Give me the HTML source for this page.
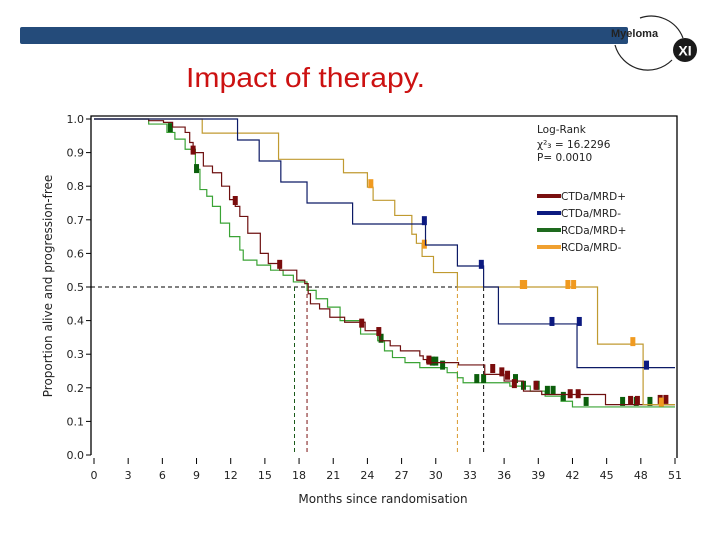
<!DOCTYPE html>
<html><head><meta charset="utf-8"><style>
body{margin:0;width:720px;height:540px;background:#fff;overflow:hidden;font-family:"DejaVu Sans","Liberation Sans",sans-serif}
</style></head><body>
<svg width="720" height="540" viewBox="0 0 720 540" xmlns="http://www.w3.org/2000/svg">
<rect x="20" y="27" width="608" height="17" rx="2" fill="#244b7a"/>
<g>
<path d="M640,18 A34,34 0 0 1 683,38" fill="none" stroke="#222" stroke-width="1.2"/>
<path d="M615,45 A34,34 0 0 0 672,60" fill="none" stroke="#222" stroke-width="1.2"/>
<text x="611" y="37" font-family="Liberation Sans,sans-serif" font-weight="bold" font-size="11" fill="#222">Myeloma</text>
<circle cx="685" cy="50" r="12" fill="#1a1a1a"/>
<text x="685" y="55.5" text-anchor="middle" font-family="Liberation Sans,sans-serif" font-weight="bold" font-size="14" fill="#fff">XI</text>
</g>
<text x="186" y="87" font-family="Liberation Sans,sans-serif" font-size="28" textLength="239" lengthAdjust="spacingAndGlyphs" fill="#cc1111">Impact of therapy.</text>
<g id="chart"></g>
</svg>
<script>
const xTicks=[0,3,6,9,12,15,18,21,24,27,30,33,36,39,42,45,48,51];
const yTicks=[0,0.1,0.2,0.3,0.4,0.5,0.6,0.7,0.8,0.9,1.0];
const maroonTimes=[0,4.8,6.1,6.9,8.0,8.4,8.7,9.6,10.4,11.2,11.9,12.4,12.8,13.5,14.6,15.3,16.3,17.8,18.5,18.8,19.0,19.8,20.7,22,23.8,25.1,26,26.9,28.6,28.9,29.2,32,34.3,36,37.7,39.3,44.9];
const maroonValues=[1,0.995,0.99,0.976,0.96,0.93,0.90,0.86,0.84,0.80,0.76,0.74,0.71,0.66,0.60,0.57,0.55,0.52,0.51,0.48,0.45,0.435,0.41,0.395,0.37,0.34,0.325,0.31,0.295,0.284,0.275,0.268,0.24,0.22,0.19,0.18,0.15];
const greenTimes=[0,4.8,6.4,7.1,8.0,8.9,9.3,9.9,10.4,11.1,11.9,12.8,13.1,14.3,15.5,16.6,17.5,18.7,19.5,20.5,21.6,23.4,24.9,25.5,26.2,27.3,28.6,31,31.9,32.4,36.5,38.3,39.6,41,42];
const greenValues=[1,0.985,0.96,0.94,0.91,0.85,0.79,0.77,0.74,0.69,0.65,0.61,0.58,0.565,0.55,0.535,0.515,0.49,0.465,0.44,0.40,0.36,0.34,0.31,0.29,0.275,0.26,0.245,0.23,0.215,0.205,0.19,0.175,0.16,0.143];
const blueTimes=[0,12.6,14.5,16.4,18.7,22.7,29.1,31.9,34.2,35.5,42.4];
const blueValues=[1,0.9375,0.875,0.8125,0.75,0.6875,0.625,0.5625,0.5,0.39,0.26];
const yellowTimes=[0,9.5,16.2,21.9,24.0,24.5,26.4,27.9,28.3,28.8,29.8,31.9,44.2,48.2];
const yellowValues=[1,0.958,0.88,0.84,0.797,0.758,0.713,0.657,0.63,0.591,0.543,0.5,0.33,0.15];
const maroonCensT=[8.7,12.4,16.3,23.5,25.0,29.4,35.0,35.8,36.3,36.9,38.8,41.8,42.5,47.1,47.7,49.7,50.2];
const maroonCensV=[0.90,0.75,0.56,0.385,0.36,0.275,0.25,0.24,0.23,0.205,0.20,0.175,0.175,0.155,0.155,0.158,0.158];
const greenCensT=[6.7,9.0,25.2,29.7,30.0,30.6,33.6,34.2,37.0,37.7,38.9,39.8,40.3,41.2,43.2,46.4,47.6,48.8];
const greenCensV=[0.967,0.845,0.34,0.272,0.272,0.26,0.22,0.22,0.22,0.2,0.2,0.185,0.185,0.167,0.152,0.152,0.152,0.152];
const blueCensT=[29.0,34.0,40.2,42.6,48.5];
const blueCensV=[0.69,0.56,0.39,0.39,0.26];
const yellowCensT=[24.3,29.0,37.6,37.8,41.6,42.1,47.3,49.8];
const yellowCensV=[0.80,0.62,0.5,0.5,0.5,0.5,0.33,0.15];
const medians=[17.6,18.7,31.9,34.2];
const medianColors=['#1a5a1a','#7a1010','#d89a30','#111'];
const endT=51;

const X=t=>94+t*(581/51);
const Y=s=>455-s*336;
const NS='http://www.w3.org/2000/svg';
const g=document.getElementById('chart');
function mk(tag,attrs,parent){const e=document.createElementNS(NS,tag);for(const k in attrs)e.setAttribute(k,attrs[k]);(parent||g).appendChild(e);return e;}

const frame=mk('path',{d:`M91,455 L91,116 L677,116 L677,458`,fill:'none',stroke:'#000','stroke-width':1.3});



xTicks.forEach(t=>{
  const l=mk('line',{x1:X(t),x2:X(t),y1:458,y2:464,stroke:'#000','stroke-width':1});
  
  
  const tx=mk('text',{x:X(t),y:479,'text-anchor':'middle','font-size':11,fill:'#222'});
  tx.textContent=t;
  
  
});
yTicks.forEach(v=>{
  const l=mk('line',{x1:86,x2:91,y1:Y(v),y2:Y(v),stroke:'#000','stroke-width':1});
  
  
  const tx=mk('text',{x:84,y:Y(v)+4,'text-anchor':'end','font-size':11,fill:'#222'});
  tx.textContent=v.toFixed(1);
  
  
});
const yt=mk('text',{x:0,y:0,transform:'translate(52,286) rotate(-90)','text-anchor':'middle','font-size':12,fill:'#222'});
yt.textContent='Proportion alive and progression-free';


const xt=mk('text',{x:383,y:503,'text-anchor':'middle','font-size':12,fill:'#222'});
xt.textContent='Months since randomisation';



const hl=mk('line',{x1:91,x2:X(34.2),y1:Y(0.5),y2:Y(0.5),stroke:'#000','stroke-dasharray':'4,3','stroke-width':1});


medians.forEach((m,i)=>{
  const l=mk('line',{x1:X(m),x2:X(m),y1:Y(0.5),y2:455,stroke:medianColors[i],'stroke-dasharray':'4,3','stroke-width':1});
  
  
});

function stepPath(ts,vs){
  let d=`M${X(ts[0])},${Y(vs[0])}`;
  for(let i=1;i<ts.length;i++){d+=` L${X(ts[i])},${Y(vs[i-1])} L${X(ts[i])},${Y(vs[i])}`;}
  d+=` L${X(endT)},${Y(vs[vs.length-1])}`;
  return d;
}
function series(name,ts,vs,color,ct,cv,ccolor){
  const p=mk('path',{d:stepPath(ts,vs),fill:'none',stroke:color,'stroke-width':1.2});
  
  
  ct.forEach((t,i)=>{
    const r=mk('rect',{x:X(t)-2.5,y:Y(cv[i])-7,width:5,height:9,fill:ccolor});
    
    
  });
}
series('rcda-mrd-pos',greenTimes,greenValues,'#3aa335',greenCensT,greenCensV,'#0b5e0b');
series('ctda-mrd-pos',maroonTimes,maroonValues,'#6e1010',maroonCensT,maroonCensV,'#7a0c0c');
series('rcda-mrd-neg',yellowTimes,yellowValues,'#c09a30',yellowCensT,yellowCensV,'#f09a20');
series('ctda-mrd-neg',blueTimes,blueValues,'#0c1a66',blueCensT,blueCensV,'#0c1a80');

const lg=mk('g',{});


[['Log-Rank',133],['χ²₃ = 16.2296',148],['P= 0.0010',161]].forEach(([s,y])=>{
  const t=mk('text',{x:537,y:y,'font-size':10.5,fill:'#222'},lg);t.textContent=s;
  
  
});
[['CTDa/MRD+','#7a1010'],['CTDa/MRD-','#0c1a80'],['RCDa/MRD+','#1e6a1e'],['RCDa/MRD-','#f0a030']].forEach(([s,c],i)=>{
  const y=196+i*17;
  const r=mk('rect',{x:537,y:y-2,width:24,height:4,fill:c},lg);
  
  
  const t=mk('text',{x:561,y:y+4,'font-size':10.5,fill:'#222'},lg);t.textContent=s;
  
  
});
</script>
</body></html>
